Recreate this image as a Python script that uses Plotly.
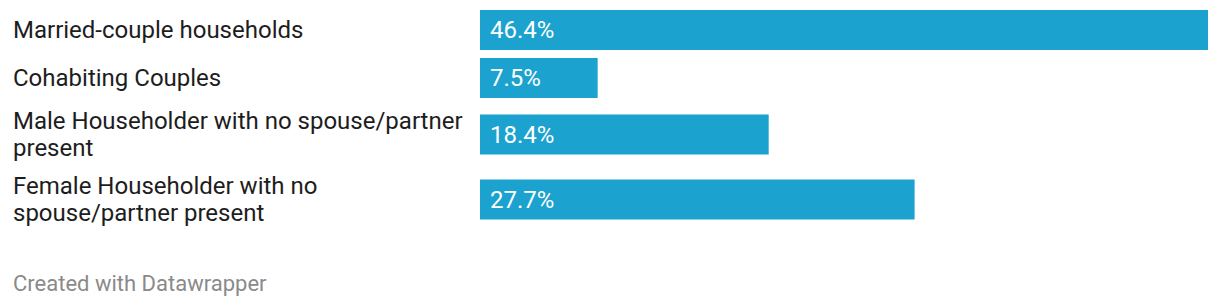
import plotly.graph_objects as go

categories = [
    "Married-couple households",
    "Cohabiting Couples",
    "Male Householder with no spouse/partner<br>present",
    "Female Householder with no<br>spouse/partner present",
]
values = [46.4, 7.5, 18.4, 27.7]
value_labels = ["46.4%", "7.5%", "18.4%", "27.7%"]

W, H = 1220, 306
BAR_H = 40
GAP = 8
ROW_LINE_H = 28.5
LINE_SP = 26.5
TOP = 10
BAR_LEFT = 480
BAR_RIGHT = 1208
COLOR = "#1ba2cf"
FONT = "Roboto"

# compute row centres from label line counts (layout only)
centers = []
y = TOP
for c in categories:
    n = c.count("<br>") + 1
    h = max(BAR_H, n * ROW_LINE_H)
    centers.append(y + h / 2)
    y += h + GAP

fig = go.Figure()
fig.add_trace(go.Bar(
    x=values, y=centers, orientation="h", width=BAR_H,
    marker=dict(color=COLOR, line=dict(width=0)),
    hoverinfo="skip", showlegend=False,
))

for c, cy, lab in zip(categories, centers, value_labels):
    lines = c.split("<br>")
    n = len(lines)
    for i, line in enumerate(lines):
        ly = cy + (i - (n - 1) / 2) * LINE_SP
        fig.add_annotation(x=11 / W, xref="paper", y=ly, yref="y", text=line,
                           showarrow=False, xanchor="left", yanchor="middle", align="left",
                           font=dict(family=FONT, size=24, color="#1d1d1d"))
    fig.add_annotation(x=0, xref="x", y=cy, yref="y", text=lab, xshift=8,
                       showarrow=False, xanchor="left", yanchor="middle",
                       font=dict(family=FONT, size=24, color="#ffffff"))

fig.add_annotation(x=11 / W, xref="paper", y=283, yref="y", text="Created with Datawrapper",
                   showarrow=False, xanchor="left", yanchor="middle",
                   font=dict(family=FONT, size=22, color="#8a8a8a"))

fig.update_layout(
    width=W, height=H, margin=dict(l=0, r=0, t=0, b=0),
    paper_bgcolor="white", plot_bgcolor="white",
    xaxis=dict(domain=[BAR_LEFT / W, BAR_RIGHT / W], range=[0, max(values)],
               visible=False, fixedrange=True),
    yaxis=dict(domain=[0, 1], range=[H, 0], visible=False, fixedrange=True),
)

fig.write_html("out.html")
